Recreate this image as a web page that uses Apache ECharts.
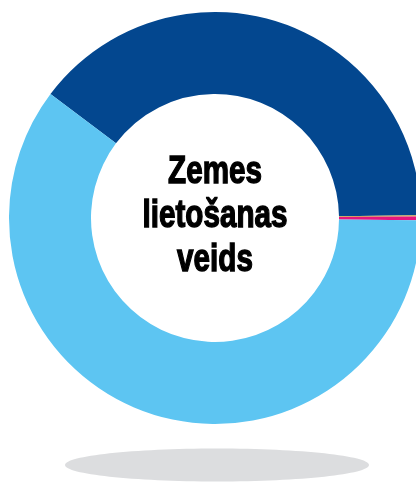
<!DOCTYPE html>
<html>
<head>
<meta charset="utf-8">
<script src="https://cdn.jsdelivr.net/npm/echarts@6/dist/echarts.min.js"></script>
<style>
html,body{margin:0;padding:0;background:#fff;}
#chart{width:416px;height:482px;}
</style>
</head>
<body>
<div id="chart"></div>
<script>
const categories = ['Tumši zilā daļa', 'Zelta daļa', 'Rozā daļa', 'Gaiši zilā daļa'];
const values = [39.5, 0.1, 0.3, 60.1];
const colors = ['#03478F', '#C9A54A', '#E5157F', '#5DC5F2'];
const centerTitle = 'Zemes\nlietošanas\nveids';

const chart = echarts.init(document.getElementById('chart'), null, {renderer: 'canvas'});
chart.setOption({
  animation: false,
  backgroundColor: '#ffffff',
  graphic: [
    {
      type: 'ellipse',
      shape: {cx: 217, cy: 465, rx: 152, ry: 16.5},
      style: {fill: '#DCDDDF'},
      z: 0
    },
    {
      type: 'text',
      x: 215,
      y: 216,
      scaleX: 0.76,
      scaleY: 1,
      style: {
        text: centerTitle,
        x: 0,
        y: 0,
        textAlign: 'center',
        textVerticalAlign: 'middle',
        font: 'bold 39px "Liberation Sans", Arial, sans-serif',
        lineHeight: 44,
        fill: '#000000',
        stroke: '#000000',
        lineWidth: 1.4
      },
      z: 10
    }
  ],
  series: [{
    type: 'pie',
    center: [215, 218],
    radius: [124, 206],
    startAngle: 143,
    clockwise: true,
    label: {show: false},
    labelLine: {show: false},
    emphasis: {disabled: true},
    itemStyle: {borderWidth: 0},
    data: categories.map((c, i) => ({name: c, value: values[i], itemStyle: {color: colors[i]}}))
  }]
});
</script>
</body>
</html>
